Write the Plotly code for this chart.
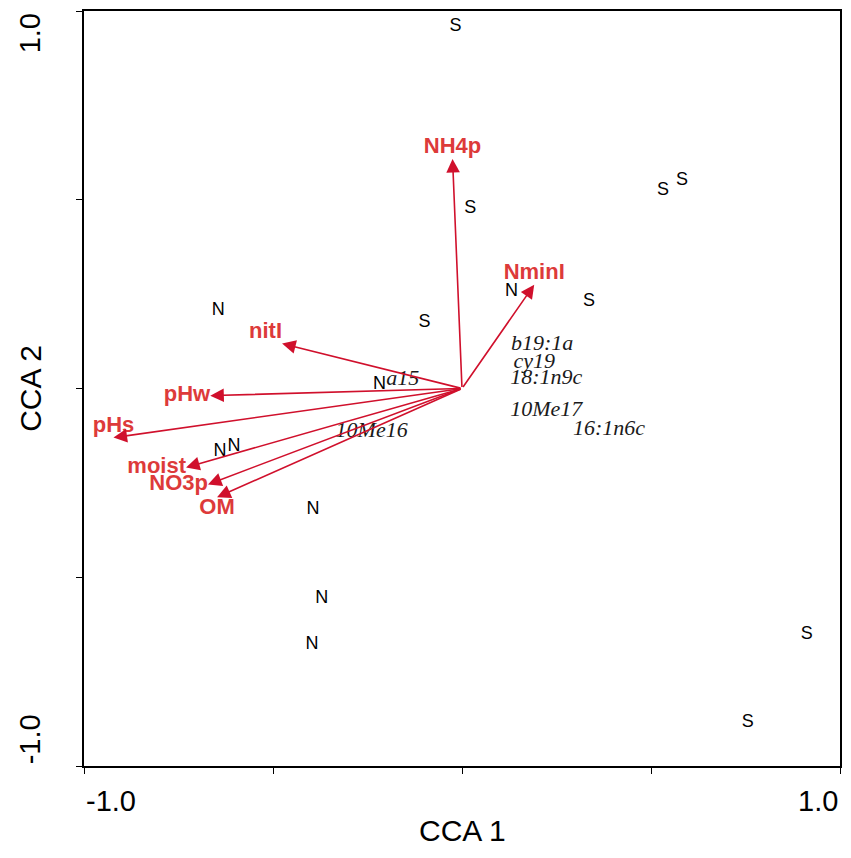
import plotly.graph_objects as go

# variables ambientales (puntas de flecha en CCA1/CCA2)
env_names = ["NH4p", "NminI", "nitI", "pHw", "pHs", "moist", "NO3p", "OM"]
env_x = [-0.025, 0.191, -0.476, -0.666, -0.922, -0.730, -0.672, -0.648]
env_y = [0.608, 0.275, 0.119, -0.019, -0.130, -0.209, -0.254, -0.288]
env_pos = ["top center", "top center", "top left", "middle left",
           "top center", "middle left", "middle left", "bottom center"]

# muestras
sample_lab = ["S", "S", "S", "S", "S", "S", "S", "S",
              "N", "N", "N", "N", "N", "N", "N", "N"]
sample_x = [-0.017, 0.022, 0.532, 0.582, 0.336, -0.099, 0.912, 0.756,
            -0.645, 0.131, -0.218, -0.640, -0.603, -0.394, -0.371, -0.397]
sample_y = [0.958, 0.476, 0.524, 0.550, 0.230, 0.175, -0.651, -0.886,
            0.206, 0.257, 0.011, -0.167, -0.153, -0.320, -0.556, -0.677]

# PLFA
plfa_names = ["a15", "10Me16", "b19:1a", "cy19", "18:1n9c", "10Me17", "16:1n6c"]
plfa_x = [-0.157, -0.239, 0.212, 0.191, 0.223, 0.223, 0.389]
plfa_y = [0.024, -0.114, 0.116, 0.069, 0.026, -0.058, -0.108]

arrow_col = "#d0102c"
label_col = "#dd3a3a"

fig = go.Figure()

# flechas desde el origen
for x, y in zip(env_x, env_y):
    fig.add_annotation(x=x, y=y, ax=0, ay=0, xref="x", yref="y", axref="x", ayref="y",
                       text="", showarrow=True, arrowhead=2, arrowsize=1.7,
                       arrowwidth=1.6, arrowcolor=arrow_col)

fig.add_trace(go.Scatter(x=env_x, y=env_y, mode="text", text=env_names,
                         textposition=env_pos,
                         textfont=dict(family="Liberation Sans", size=22, color=label_col,
                                       weight="bold"),
                         hoverinfo="skip"))

fig.add_trace(go.Scatter(x=sample_x, y=sample_y, mode="text", text=sample_lab,
                         textfont=dict(family="Liberation Sans", size=18, color="black"),
                         hoverinfo="skip"))

fig.add_trace(go.Scatter(x=plfa_x, y=plfa_y, mode="text", text=plfa_names,
                         textfont=dict(family="Liberation Serif", size=22, color="#1a1a1a",
                                       style="italic"),
                         hoverinfo="skip"))

axis_common = dict(range=[-1, 1], showgrid=False, zeroline=False, showticklabels=False,
                   showline=True, linecolor="black", linewidth=1.5, mirror=True,
                   ticks="outside", ticklen=6, tickwidth=1.2, tickcolor="black",
                   tickvals=[-1, -0.5, 0, 0.5, 1])

# la página tiene 8px de margen, por eso el tamaño es algo menor
fig.update_layout(
    width=835, height=842,
    margin=dict(l=76, r=1, t=1, b=84),
    plot_bgcolor="white", paper_bgcolor="white",
    showlegend=False,
    xaxis=axis_common,
    yaxis=axis_common,
)

tick_font = dict(family="Liberation Sans", size=29, color="black")
# etiquetas de los extremos de los ejes
fig.add_annotation(x=-1, y=-0.046, xref="x", yref="paper", text="-1.0", showarrow=False,
                   xanchor="left", yanchor="middle", font=tick_font)
fig.add_annotation(x=1, y=-0.046, xref="x", yref="paper", text="1.0", showarrow=False,
                   xanchor="right", yanchor="middle", font=tick_font)
fig.add_annotation(x=-0.071, y=1, xref="paper", yref="y", text="1.0", showarrow=False,
                   textangle=-90, xanchor="center", yanchor="top", font=tick_font)
fig.add_annotation(x=-0.071, y=-1, xref="paper", yref="y", text="-1.0", showarrow=False,
                   textangle=-90, xanchor="center", yanchor="bottom", font=tick_font)

title_font = dict(family="Liberation Sans", size=30, color="black")
fig.add_annotation(x=0.5, y=-0.085, xref="paper", yref="paper", text="CCA 1",
                   showarrow=False, xanchor="center", yanchor="middle", font=title_font)
fig.add_annotation(x=-0.071, y=0.5, xref="paper", yref="paper", text="CCA 2",
                   showarrow=False, textangle=-90, xanchor="center", yanchor="middle",
                   font=title_font)

fig.write_html("out.html")
